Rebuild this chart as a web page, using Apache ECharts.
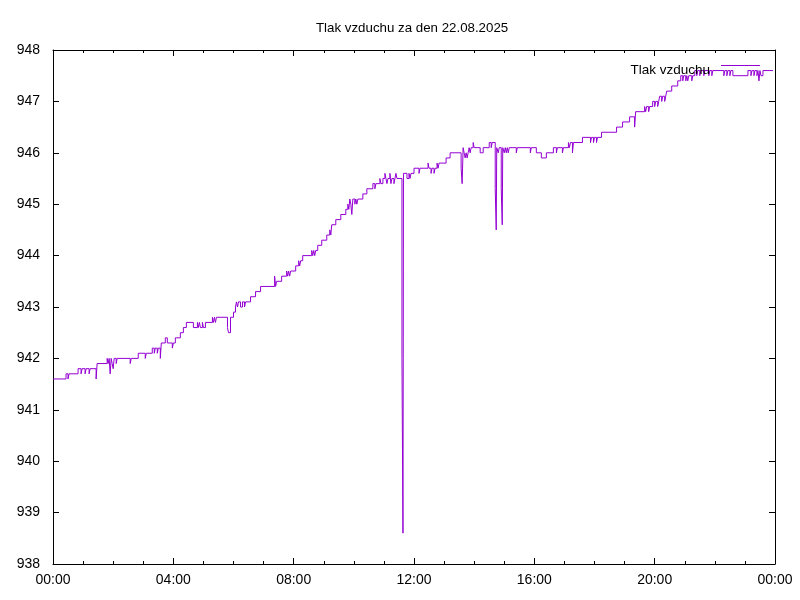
<!DOCTYPE html>
<html>
<head>
<meta charset="utf-8">
<script src="https://cdn.jsdelivr.net/npm/echarts@6/dist/echarts.min.js"></script>
<style>
html,body{margin:0;padding:0;background:#fff;}
#chart{width:800px;height:600px;}
</style>
</head>
<body>
<div id="chart"></div>
<script>
const chartTitle = 'Tlak vzduchu za den 22.08.2025';
const seriesName = 'Tlak vzduchu';
const xTickMinutes = [0, 240, 480, 720, 960, 1200, 1440];
const yTicks = [938, 939, 940, 941, 942, 943, 944, 945, 946, 947, 948];

// change points: value holds from this time until the next one
const times = [
'0:00','0:26','0:30','0:32','0:50','0:56','0:58','1:04','1:06','1:12','1:14','1:26','1:28',
'1:48','1:50','1:52','1:54','1:56','1:58','2:00','2:02','2:06','2:08',
'2:34','2:36','2:50','3:04','3:06',
'3:18','3:22','3:24','3:28','3:30','3:34','3:36','3:44','3:48','3:58','4:00',
'4:04','4:14','4:20','4:26','4:40','4:48','4:50','4:52','4:54','4:58','5:00','5:04',
'5:18','5:20','5:22','5:24','5:26',
'5:48','5:50','5:54','6:00','6:04',
'6:06','6:08','6:10','6:14','6:18','6:22','6:24',
'6:34','6:44','6:54',
'7:22','7:24','7:26','7:36',
'7:46','7:48','7:50','7:52','7:54',
'8:04','8:10','8:12','8:14','8:18',
'8:36','8:38','8:40','8:42','8:44',
'8:48','8:56','9:06','9:12','9:14','9:16','9:24','9:34',
'9:44','9:48','9:50','9:52','9:54','9:56','9:58','10:02','10:04','10:06','10:08',
'10:18','10:26','10:38','10:42','10:44','10:52',
'10:54','10:58','11:02','11:04','11:06','11:08','11:12','11:14','11:16','11:20','11:22','11:24','11:26',
'11:36','11:38','11:39',
'11:46','11:50','11:52','11:54','12:00','12:10','12:12',
'12:28','12:30','12:34','12:36','12:40','12:42',
'12:46','12:48','12:50','13:04','13:12',
'13:34','13:36','13:38','13:40','13:42','13:44','13:46','13:48','13:50','13:52','13:54',
'13:58','14:00','14:12','14:18','14:30','14:34','14:36',
'14:42','14:44','14:45',
'14:48','14:50','14:54','14:56','14:57',
'15:00','15:02','15:04','15:06','15:08','15:10',
'15:24','15:26','15:52','15:54',
'16:04','16:14','16:24','16:38','16:44','16:46','16:56','16:58',
'17:08','17:10','17:12','17:16','17:18','17:36',
'17:52','17:54','17:58','18:00','18:04','18:06',
'18:14','18:44','18:56','19:10','19:20','19:22',
'19:40','19:42','19:44','19:48','19:50',
'19:56','20:00','20:02','20:06','20:08',
'20:10','20:14','20:16','20:20','20:22',
'20:24','20:34','20:46','20:52','20:56','20:58','21:02','21:04','21:06','21:08','21:14','21:16',
'21:20','21:24','21:26','21:30','21:32','21:38','21:40','21:48','21:50','21:54','21:56',
'22:18','22:20','22:24','22:26','22:30','22:32','22:36',
'23:06','23:12','23:14','23:18','23:20','23:24','23:26','23:28','23:30','23:32','23:36',
'23:56'
];
const pressure = [
941.6,941.7,941.6,941.7,941.8,941.7,941.8,941.7,941.8,941.7,941.8,941.6,941.9,
942.0,941.9,942.0,941.7,942.0,941.9,941.8,942.0,941.9,942.0,
941.9,942.0,942.1,942.0,942.1,
942.2,942.1,942.2,942.1,942.2,942.0,942.3,942.4,942.3,942.2,942.3,
942.4,942.5,942.6,942.7,942.6,942.7,942.6,942.7,942.6,942.7,942.6,942.7,
942.8,942.7,942.8,942.7,942.8,
942.6,942.5,942.8,942.9,943.0,
943.1,943.0,943.1,943.0,943.1,943.0,943.1,
943.2,943.3,943.4,
943.6,943.4,943.5,943.6,
943.7,943.6,943.7,943.6,943.7,
943.8,943.9,943.8,943.9,944.0,
944.1,944.0,944.1,944.0,944.1,
944.2,944.3,944.4,944.5,944.4,944.6,944.7,944.8,
944.9,945.0,944.9,945.1,945.0,944.8,945.1,945.0,945.1,945.0,945.1,
945.2,945.3,945.4,945.3,945.4,945.5,
945.4,945.5,945.6,945.5,945.4,945.5,945.6,945.4,945.5,945.4,945.5,945.6,945.5,
942.0,938.6,945.6,
945.5,945.6,945.5,945.6,945.7,945.6,945.7,
945.8,945.7,945.6,945.7,945.6,945.7,
945.8,945.7,945.8,945.9,946.0,
945.7,945.4,946.1,946.0,945.9,946.0,945.9,946.0,946.1,946.0,946.1,
946.2,946.1,946.0,946.1,946.2,946.1,946.2,
945.3,944.5,946.1,
946.0,946.1,945.3,944.6,946.1,
946.0,946.1,946.0,946.1,946.0,946.1,
946.0,946.1,946.0,946.1,
946.0,945.9,946.0,946.1,946.0,946.1,946.0,946.1,
946.2,946.1,946.2,946.0,946.2,946.3,
946.2,946.3,946.2,946.3,946.2,946.3,
946.4,946.5,946.6,946.7,946.5,946.8,
946.9,946.8,946.9,946.8,946.9,
947.0,946.9,947.0,946.9,947.0,
947.1,947.0,947.1,947.0,947.1,
947.2,947.3,947.4,947.5,947.4,947.5,947.4,947.5,947.4,947.5,947.4,947.5,
947.6,947.5,947.6,947.5,947.6,947.5,947.6,947.5,947.6,947.5,947.6,
947.5,947.6,947.5,947.6,947.5,947.6,947.5,
947.6,947.5,947.6,947.5,947.6,947.5,947.6,947.4,947.6,947.5,947.6,
947.6
];

function toMin(s){ const p = s.split(':'); return (+p[0]) * 60 + (+p[1]); }
function fmt(m){ const h = Math.floor(m / 60) % 24, mm = m % 60; return String(h).padStart(2,'0') + ':' + String(mm).padStart(2,'0'); }
const seriesData = times.map((t, i) => [toMin(t), pressure[i]]);

const FONT = 'Liberation Sans, Arial, sans-serif';
const LINE_COLOR = '#9400d3';
const xMin = xTickMinutes[0], xMax = xTickMinutes[xTickMinutes.length - 1];
const xInt = xTickMinutes[1] - xTickMinutes[0];
const yMin = yTicks[0], yMax = yTicks[yTicks.length - 1];

function xAxisDef(pos, labels){
  return {
    type: 'value', position: pos, min: xMin, max: xMax, interval: xInt,
    axisLine: { show: true, onZero: false, lineStyle: { color: '#000', width: 1 } },
    axisTick: { show: true, inside: true, length: 6, lineStyle: { color: '#000' } },
    minorTick: { show: true, splitNumber: 4, length: 3, lineStyle: { color: '#000' } },
    splitLine: { show: false },
    axisLabel: { show: labels, color: '#000', fontFamily: FONT, fontSize: 14, margin: 9, formatter: v => fmt(v) }
  };
}
function yAxisDef(pos, labels){
  return {
    type: 'value', position: pos, min: yMin, max: yMax, interval: 1,
    axisLine: { show: true, onZero: false, lineStyle: { color: '#000', width: 1 } },
    axisTick: { show: true, inside: true, length: 6, lineStyle: { color: '#000' } },
    splitLine: { show: false },
    axisLabel: { show: labels, color: '#000', fontFamily: FONT, fontSize: 14, margin: 13 }
  };
}

const chart = echarts.init(document.getElementById('chart'), null, { renderer: 'canvas' });
chart.setOption({
  animation: false,
  backgroundColor: '#fff',
  title: {
    text: chartTitle, left: 311, top: 17,
    textStyle: { color: '#000', fontFamily: FONT, fontSize: 13.3, fontWeight: 'normal' }
  },
  legend: {
    right: 37, top: 58, align: 'right', itemWidth: 40, itemHeight: 14, itemGap: 10,
    icon: 'rect',
    itemStyle: { opacity: 0 },
    textStyle: { color: '#000', fontFamily: FONT, fontSize: 13.5, padding: [0, 3, 0, 0] },
    data: [seriesName]
  },
  graphic: [{
    type: 'rect', silent: true, z: 100,
    shape: { x: 721, y: 65, width: 39, height: 1 },
    style: { fill: LINE_COLOR, stroke: null }
  }],
  grid: { left: 53, right: 25, top: 50, bottom: 36 },
  xAxis: [xAxisDef('bottom', true), xAxisDef('top', false)],
  yAxis: [yAxisDef('left', true), yAxisDef('right', false)],
  series: [{
    name: seriesName, type: 'line', step: 'end', data: seriesData,
    xAxisIndex: 0, yAxisIndex: 0,
    showSymbol: false, symbol: 'none', sampling: null,
    color: LINE_COLOR,
    lineStyle: { color: LINE_COLOR, width: 1 }
  }]
});
</script>
</body>
</html>
